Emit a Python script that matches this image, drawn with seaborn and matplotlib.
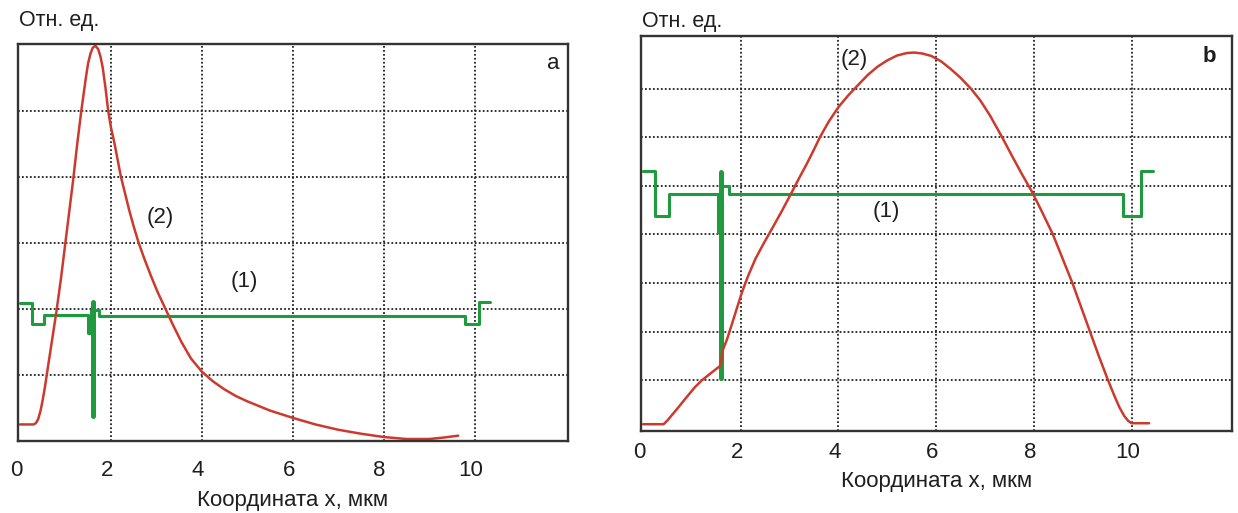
import numpy as np
import matplotlib
matplotlib.use("Agg")
import matplotlib.pyplot as plt
import matplotlib.transforms as mtransforms
import seaborn as sns

# Panel a: red curve (2)
red_a_x = [0.00, 0.30, 0.35, 0.40, 0.45, 0.50, 0.55, 0.60, 0.70, 0.80, 0.90, 0.99,
           1.08, 1.17, 1.26, 1.35, 1.45, 1.50, 1.55, 1.60, 1.66, 1.72, 1.77, 1.82,
           1.88, 1.94, 2.00, 2.08, 2.15, 2.22, 2.31, 2.40, 2.50, 2.61, 2.74, 2.88,
           3.03, 3.20, 3.37, 3.55, 3.76, 4.00, 4.25, 4.50, 4.75, 5.00, 5.50, 6.00,
           6.50, 7.00, 7.50, 8.00, 8.50, 9.00, 9.30, 9.64]
red_a_y = [0.25, 0.25, 0.27, 0.33, 0.45, 0.62, 0.82, 1.05, 1.50, 1.95, 2.45, 2.95,
           3.45, 3.95, 4.50, 5.00, 5.50, 5.72, 5.86, 5.95, 5.98, 5.93, 5.82, 5.65,
           5.35, 5.00, 4.75, 4.50, 4.25, 4.00, 3.75, 3.50, 3.25, 3.00, 2.75, 2.50,
           2.25, 2.00, 1.75, 1.50, 1.25, 1.05, 0.90, 0.78, 0.68, 0.60, 0.46, 0.35,
           0.25, 0.17, 0.11, 0.06, 0.03, 0.03, 0.05, 0.08]

# Panel a: green profile (1) as steps (edges / levels) plus the spike
green_a_edges = [0.00, 0.26, 0.53, 1.49, 1.57, 1.74, 9.79, 10.10, 10.34]
green_a_levels = [2.09, 1.77, 1.91, 1.63, 1.98, 1.89, 1.77, 2.11]
spike_a = (1.61, 0.38, 2.11)

# Panel b: red curve (2)
red_b_x = [0.00, 0.42, 0.50, 0.70, 0.87, 1.05, 1.20, 1.40, 1.58, 1.63, 1.72, 1.80,
           1.90, 2.02, 2.15, 2.30, 2.47, 2.64, 2.85, 3.05, 3.20, 3.35, 3.50, 3.62,
           3.80, 4.00, 4.20, 4.38, 4.60, 4.80, 5.00, 5.20, 5.40, 5.55, 5.72, 5.90,
           6.10, 6.30, 6.50, 6.71, 6.90, 7.10, 7.35, 7.55, 7.75, 7.95, 8.15, 8.39,
           8.59, 8.79, 8.97, 9.15, 9.33, 9.52, 9.65, 9.75, 9.85, 9.93, 10.00, 10.36]
red_b_y = [0.10, 0.10, 0.18, 0.42, 0.63, 0.85, 1.00, 1.16, 1.30, 1.62, 1.85, 2.10,
           2.42, 2.80, 3.15, 3.50, 3.82, 4.12, 4.50, 4.88, 5.17, 5.45, 5.75, 6.00,
           6.32, 6.62, 6.86, 7.05, 7.28, 7.45, 7.58, 7.68, 7.73, 7.74, 7.72, 7.67,
           7.56, 7.40, 7.22, 7.00, 6.76, 6.45, 6.00, 5.62, 5.25, 4.90, 4.50, 4.00,
           3.50, 3.00, 2.50, 2.00, 1.50, 1.00, 0.68, 0.45, 0.27, 0.17, 0.12, 0.12]

# Panel b: green profile (1)
green_b_edges = [0.00, 0.24, 0.54, 1.53, 1.58, 1.75, 9.83, 10.20, 10.44]
green_b_levels = [5.31, 4.39, 4.84, 4.06, 5.00, 4.84, 4.39, 5.30]
spike_b = (1.60, 1.04, 5.29)

x_ticks = [0, 2, 4, 6, 8, 10]
RED = "#cc3a2e"
GREEN = "#1f9a3e"
INK = "#1e1e1e"

sns.set_theme(style="white")
plt.rcParams['font.family'] = ['Liberation Sans', 'DejaVu Sans']


def step_xy(edges, levels):
    xs = np.repeat(edges, 2)[1:-1]
    ys = np.repeat(levels, 2)
    return xs, ys


def draw_panel(ax, rx, ry, g_edges, g_levels, spike, ylim, ygrid, letter, letter_pos,
               bold, lab2, lab1, tick_pad, label_pad):
    gx, gy = step_xy(g_edges, g_levels)
    sns.lineplot(x=gx, y=gy, estimator=None, sort=False, ax=ax, color=GREEN, lw=2.2)
    sns.lineplot(x=[spike[0], spike[0]], y=[spike[1], spike[2]], estimator=None,
                 sort=False, ax=ax, color=GREEN, lw=3.6)
    sns.lineplot(x=rx, y=ry, estimator=None, sort=False, ax=ax, color=RED, lw=1.8)

    ax.set_xlim(-0.05, 12.05)
    ax.set_ylim(*ylim)
    ax.set_xticks(x_ticks)
    ax.set_xticklabels([str(t) for t in x_ticks], fontsize=16, color=INK)
    ax.set_yticks(ygrid)
    ax.set_yticklabels([])
    ax.tick_params(axis="both", length=0)
    ax.tick_params(axis="x", pad=tick_pad)
    ax.grid(True, color="#222222", linestyle=(0, (1, 1.2)), lw=1.3)
    ax.xaxis.get_gridlines()[0].set_visible(False)
    for s in ax.spines.values():
        s.set_color("#333333")
        s.set_linewidth(1.7)
    shift = mtransforms.ScaledTranslation(-4 / 100, 0, ax.figure.dpi_scale_trans)
    for lbl in ax.get_xticklabels():
        lbl.set_transform(lbl.get_transform() + shift)
    ax.set_xlabel("Координата x, мкм", fontsize=16, color=INK, labelpad=label_pad)
    ax.set_ylabel("")

    ax.text(letter_pos[0], letter_pos[1], letter, transform=ax.transAxes,
            ha="center", va="center", fontsize=16,
            fontweight="bold" if bold else "normal", color=INK)
    ax.text(lab2[0], lab2[1], "(2)", ha="center", va="center", fontsize=16, color=INK)
    ax.text(lab1[0], lab1[1], "(1)", ha="center", va="center", fontsize=16, color=INK)


fig = plt.figure(figsize=(12.38, 5.13), dpi=100)
ax_a = fig.add_axes([0.0143, 0.1404, 0.4443, 0.7729])
ax_b = fig.add_axes([0.5175, 0.1598, 0.4774, 0.7700])

draw_panel(ax_a, red_a_x, red_a_y, green_a_edges, green_a_levels, spike_a,
           (0, 6), [1, 2, 3, 4, 5], "a", (0.973, 0.953), False,
           (3.08, 3.38), (4.93, 2.42), 13.5, 6.5)
draw_panel(ax_b, red_b_x, red_b_y, green_b_edges, green_b_levels, spike_b,
           (-0.04, 8.08), [1, 2, 3, 4, 5, 6, 7], "b", (0.963, 0.948), True,
           (4.32, 7.59), (4.98, 4.47), 8.0, 6.0)

fig.text(19 / 1238, 1 - 26 / 513, "Отн. ед.", fontsize=15.5, color=INK, va="baseline")
fig.text(642 / 1238, 1 - 27 / 513, "Отн. ед.", fontsize=15.5, color=INK, va="baseline")

fig.savefig("out.png", dpi=100)
